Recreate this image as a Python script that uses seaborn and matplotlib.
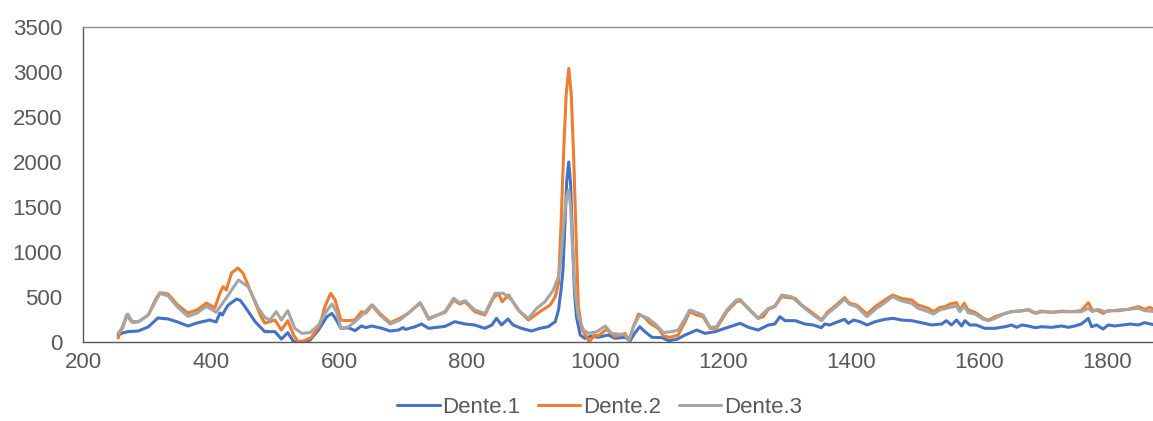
import numpy as np
import pandas as pd
import matplotlib
matplotlib.use("Agg")
import matplotlib.pyplot as plt
import seaborn as sns

# Raman shift (cm-1) and intensity for each tooth sample
dente1_x = [255, 262, 270, 286, 302, 310, 317, 333, 348, 364, 380, 398, 408, 414, 418, 422, 427, 440, 446, 453,
            469, 484, 500, 510, 520, 529, 542, 555, 568, 581, 589, 596, 603, 615, 625, 635, 642, 651, 667, 680,
            693, 700, 704, 719, 729, 740, 766, 781, 797, 812, 828, 839, 846, 854, 864, 872, 885, 901, 914, 927,
            938, 943, 947, 950, 953, 956, 959, 962, 965, 968, 971, 977, 984, 995, 1005, 1021, 1031, 1047, 1055, 1062,
            1070, 1078, 1089, 1105, 1115, 1128, 1141, 1159, 1172, 1188, 1203, 1219, 1227, 1240, 1255, 1271, 1281, 1289, 1297, 1313,
            1328, 1341, 1354, 1359, 1367, 1380, 1390, 1396, 1404, 1414, 1425, 1438, 1453, 1466, 1479, 1495, 1510, 1526, 1542, 1549,
            1557, 1565, 1573, 1578, 1586, 1596, 1609, 1625, 1641, 1651, 1659, 1667, 1677, 1688, 1698, 1714, 1729, 1740, 1750, 1760,
            1771, 1776, 1784, 1794, 1802, 1812, 1825, 1836, 1849, 1859, 1875]
dente1_y = [78, 100, 115, 122, 167, 220, 267, 256, 222, 178, 215, 244, 222, 322, 300, 356, 411, 478, 460, 393,
            226, 115, 115, 33, 104, 4, 0, 22, 133, 281, 318, 244, 152, 159, 126, 178, 160, 178, 152, 122,
            133, 160, 140, 170, 200, 152, 174, 226, 200, 189, 152, 189, 263, 189, 256, 189, 152, 122, 152, 170,
            226, 356, 578, 800, 1300, 1800, 2000, 1750, 1100, 550, 281, 78, 41, 67, 52, 78, 41, 52, 15, 96,
            170, 115, 52, 48, 15, 30, 78, 133, 96, 115, 152, 189, 207, 163, 133, 189, 200, 281, 237, 237,
            200, 189, 159, 200, 189, 226, 252, 207, 244, 226, 189, 226, 252, 263, 244, 237, 215, 189, 200, 237,
            189, 244, 178, 237, 189, 189, 152, 152, 170, 189, 163, 189, 178, 159, 170, 163, 178, 163, 178, 200,
            263, 170, 189, 144, 189, 178, 189, 200, 189, 215, 189]

dente2_x = [255, 258, 262, 268, 276, 287, 302, 313, 320, 333, 348, 364, 378, 393, 406, 414, 419, 424, 432, 442,
            450, 463, 477, 484, 500, 510, 520, 529, 536, 546, 557, 570, 578, 587, 594, 603, 615, 625, 635, 642,
            652, 664, 680, 695, 708, 727, 740, 766, 779, 789, 797, 812, 828, 841, 849, 855, 865, 880, 896, 914,
            930, 938, 943, 947, 951, 955, 959, 963, 967, 971, 974, 979, 991, 1000, 1005, 1018, 1031, 1047, 1053, 1060,
            1068, 1076, 1086, 1099, 1107, 1117, 1130, 1141, 1148, 1159, 1169, 1180, 1190, 1206, 1221, 1227, 1240, 1255, 1263, 1271,
            1281, 1292, 1302, 1313, 1323, 1328, 1341, 1354, 1364, 1377, 1390, 1398, 1409, 1425, 1438, 1453, 1465, 1479, 1495, 1505,
            1521, 1529, 1539, 1547, 1555, 1565, 1570, 1577, 1583, 1594, 1607, 1615, 1625, 1641, 1651, 1667, 1677, 1688, 1698, 1714,
            1729, 1745, 1760, 1771, 1777, 1786, 1794, 1802, 1818, 1833, 1849, 1859, 1867, 1875]
dente2_y = [44, 120, 156, 300, 226, 226, 300, 467, 548, 533, 411, 322, 356, 433, 378, 544, 615, 578, 766, 822,
            766, 544, 300, 210, 244, 133, 237, 78, 4, 15, 52, 189, 393, 541, 467, 244, 237, 244, 337, 320,
            411, 318, 215, 263, 318, 437, 263, 330, 467, 422, 448, 337, 300, 485, 541, 448, 522, 356, 244, 337,
            411, 504, 652, 1300, 2100, 2750, 3040, 2750, 2000, 1050, 400, 152, 4, 78, 67, 141, 60, 96, 15, 170,
            311, 281, 207, 152, 67, 52, 78, 226, 337, 300, 281, 152, 152, 337, 448, 459, 374, 263, 281, 363,
            393, 504, 493, 485, 411, 385, 318, 244, 337, 411, 493, 430, 411, 311, 393, 467, 522, 485, 467, 411,
            374, 337, 385, 393, 422, 437, 356, 430, 356, 330, 263, 244, 281, 318, 337, 348, 356, 318, 337, 330,
            337, 337, 348, 437, 356, 348, 318, 348, 348, 363, 393, 363, 385, 356]

dente3_x = [255, 259, 270, 278, 287, 302, 320, 333, 348, 364, 378, 393, 408, 422, 443, 458, 474, 484, 492, 502,
            510, 520, 531, 542, 555, 568, 578, 589, 596, 603, 615, 628, 641, 651, 664, 680, 695, 711, 727, 740,
            766, 779, 789, 797, 812, 828, 844, 857, 870, 883, 896, 909, 922, 935, 943, 947, 951, 955, 959, 962,
            965, 969, 974, 982, 990, 1003, 1016, 1026, 1047, 1053, 1060, 1070, 1083, 1096, 1107, 1120, 1130, 1141, 1148, 1159,
            1169, 1180, 1190, 1206, 1221, 1227, 1240, 1255, 1271, 1281, 1292, 1307, 1328, 1341, 1354, 1364, 1377, 1390, 1398, 1409,
            1425, 1438, 1453, 1465, 1479, 1495, 1505, 1521, 1529, 1539, 1555, 1565, 1570, 1577, 1583, 1594, 1607, 1615, 1625, 1641,
            1651, 1667, 1677, 1688, 1698, 1714, 1729, 1745, 1760, 1771, 1777, 1786, 1797, 1818, 1833, 1849, 1859, 1875]
dente3_y = [100, 130, 311, 215, 226, 300, 540, 511, 385, 285, 320, 396, 330, 470, 689, 615, 378, 274, 244, 337,
            244, 348, 152, 96, 104, 189, 318, 422, 337, 152, 170, 244, 337, 411, 300, 200, 244, 337, 430, 252,
            340, 485, 437, 459, 356, 318, 541, 541, 467, 337, 263, 374, 448, 578, 726, 950, 1300, 1600, 1690, 1500,
            1050, 550, 281, 133, 96, 115, 178, 96, 78, 15, 170, 300, 263, 189, 104, 115, 133, 263, 356, 326,
            300, 163, 170, 356, 467, 474, 363, 263, 374, 400, 522, 504, 374, 300, 237, 318, 393, 474, 418, 393,
            281, 363, 437, 504, 456, 430, 374, 337, 311, 356, 385, 400, 337, 400, 326, 310, 252, 237, 263, 318,
            337, 344, 363, 326, 344, 330, 344, 337, 337, 374, 337, 363, 337, 356, 363, 374, 348, 337]

series_names = ["Dente.1", "Dente.2", "Dente.3"]
series_colors = ["#4472C4", "#ED7D31", "#A5A5A5"]
x_ticks = [200, 400, 600, 800, 1000, 1200, 1400, 1600, 1800]
y_ticks = [0, 500, 1000, 1500, 2000, 2500, 3000, 3500]

frames = []
for name, xs, ys in zip(series_names,
                        [dente1_x, dente2_x, dente3_x],
                        [dente1_y, dente2_y, dente3_y]):
    frames.append(pd.DataFrame({"shift": xs, "intensity": ys, "sample": name}))
df = pd.concat(frames, ignore_index=True)

sns.set_theme(style="white")
plt.rcParams["font.family"] = ["Liberation Sans", "DejaVu Sans"]

fig = plt.figure(figsize=(11.53, 4.21), dpi=100)
ax = fig.add_axes([83 / 1153, 1 - 342 / 421, 1 - 83 / 1153, (342 - 27) / 421])

sns.lineplot(data=df, x="shift", y="intensity", hue="sample",
             hue_order=series_names, palette=series_colors,
             estimator=None, sort=True, linewidth=2.2, ax=ax, legend=False)

ax.set_xlim(200, 1872)
ax.set_ylim(0, 3500)
ax.set_xticks(x_ticks)
ax.set_yticks(y_ticks)
ax.set_xlabel("")
ax.set_ylabel("")
ax.tick_params(axis="both", length=0, labelsize=16, colors="#595959")
ax.tick_params(axis="y", pad=15)
ax.tick_params(axis="x", pad=7)

for side in ["left", "bottom"]:
    ax.spines[side].set_color("#595959")
    ax.spines[side].set_linewidth(1.0)
ax.spines["top"].set_color("#8c8c8c")
ax.spines["top"].set_linewidth(1.0)
ax.spines["right"].set_visible(False)

handles = [plt.Line2D([], [], color=c, lw=2.2) for c in series_colors]
fig.legend(handles, series_names, loc="center", bbox_to_anchor=(0.52, 0.033),
           ncol=3, frameon=False, fontsize=16, handlelength=1.9,
           handletextpad=0.12, columnspacing=0.8, labelcolor="#595959")

fig.savefig("out.png", dpi=100)
